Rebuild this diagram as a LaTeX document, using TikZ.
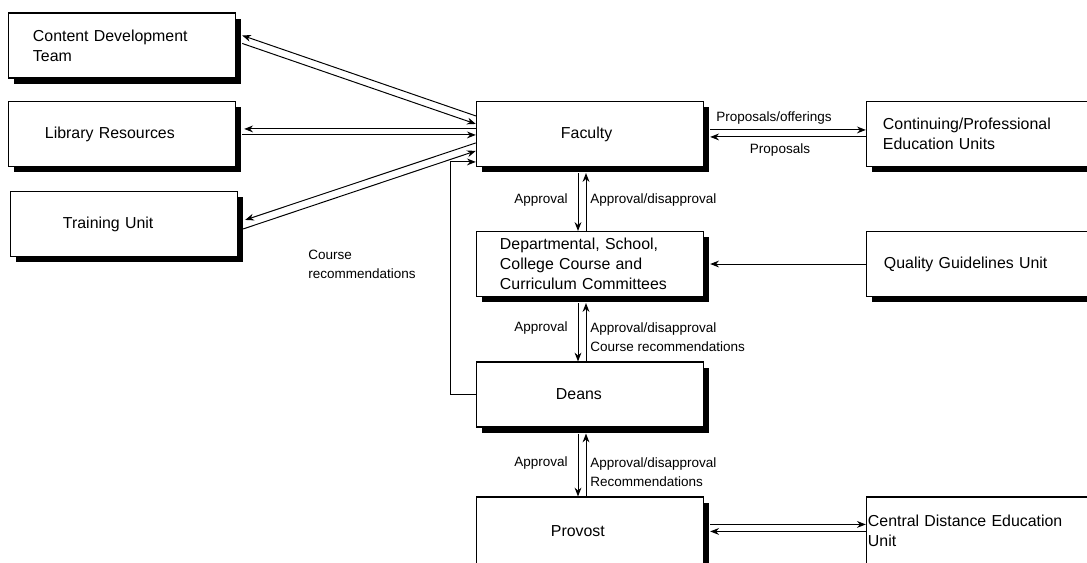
\documentclass[tikz,border=0pt]{standalone}
\usepackage{fontspec}
\setmainfont{Liberation Sans}
\usetikzlibrary{shadows,calc,arrows.meta}
\tikzstyle{unit} = [rectangle, draw=black, line width=0.8pt, fill=white, inner sep=0pt, minimum width=5.68cm, minimum height=1.625cm, general shadow={fill=black, shadow xshift=0.14cm, shadow yshift=-0.14cm}, font=\fontsize{11.3}{14.2}\selectfont, align=left]
\tikzstyle{flow} = [line width=0.7pt, -{Stealth[length=0.22cm,width=0.17cm]}]
\tikzstyle{note} = [inner sep=0pt, align=left, font=\fontsize{9.6}{13.5}\selectfont]

\begin{document}
\begin{tikzpicture}[x=0.025cm, y=-0.025cm]
	\useasboundingbox (0,0) rectangle (1087,562);
	\fill[white] (0,0) rectangle (1087,562);
	\clip (0,0) rectangle (1087,562);
	% units on the left
	\node [unit, text width=4.45cm] (cdt) at (122,45.5) {Content Development\\Team};
	\node [unit, text width=3.85cm] (lib) at (122,134) {Library Resources};
	\node [unit, text width=3.05cm] (train) at (124,224) {Training Unit};
	% main column
	\node [unit, text width=1.45cm] (fac) at (590,134) {Faculty};
	\node [unit, text width=4.5cm] (dept) at (590,264) {Departmental, School,\\College Course and\\Curriculum Committees};
	\node [unit, text width=1.7cm] (deans) at (590,394.5) {Deans};
	\node [unit, text width=1.95cm, minimum height=1.7cm] (prov) at (590,531) {Provost};
	% units on the right
	\node [unit, text width=4.85cm] (cont) at (980,134) {Continuing/Professional\\Education Units};
	\node [unit, text width=4.8cm] (qual) at (980,264) {Quality Guidelines Unit};
	\node [unit, text width=5.6cm, minimum height=1.7cm] (cdeu) at (980,531) {Central Distance Education\\Unit};

	\draw[flow] ($(fac.north west)+(0,15)$) -- ($(cdt.north east)+(6,23)$);
	\draw[flow] ($(cdt.north east)+(6,31)$) -- ($(fac.north west)+(0,23)$);
	\draw[flow] ($(fac.north west)+(0,28)$) -- ($(lib.north east)+(8,28)$);
	\draw[flow] ($(lib.north east)+(6,34)$) -- ($(fac.north west)+(0,34)$);
	\draw[flow] ($(fac.north west)+(0,42)$) -- ($(train.north east)+(7,29)$);
	\draw[flow] ($(train.north east)+(5,38)$) -- ($(fac.north west)+(0,50)$);
	\draw[flow] (deans.west) -- ++(-25,0) |- ($(fac.north west)+(0,61)$);

	\draw[flow] ($(fac.north east)+(6,29)$) -- ($(cont.north west)+(0,29)$);
	\draw[flow] ($(cont.north west)+(0,36)$) -- ($(fac.north east)+(6,36)$);
	\draw[flow] (qual.west) -- ($(dept.east)+(6,0)$);
	\draw[flow] ($(prov.north east)+(6,28)$) -- ($(cdeu.north west)+(0,28)$);
	\draw[flow] ($(cdeu.north west)+(0,35)$) -- ($(prov.north east)+(6,35)$);

	\foreach \up/\down in {fac/dept, dept/deans, deans/prov} {
		\draw[flow] ($(\up.south)+(-12,6)$) -- ($(\down.north)+(-12,0)$);
		\draw[flow] ($(\down.north)+(-4,0)$) -- ($(\up.south)+(-4,6)$);
	}

	% labels
	\node [note] (offer) at (774,118) {Proposals/offerings};
	\node [note] (prop) at (780,150) {Proposals};
	\node [note, anchor=west] (crec) at (308,264) {Course\\recommendations};
	\node [note, anchor=east] (ok1) at (568,200) {Approval};
	\node [note, anchor=west] (dis1) at (590,200) {Approval/disapproval};
	\node [note, anchor=east] (ok2) at (568,328) {Approval};
	\node [note, anchor=west] (dis2) at (590,337.5) {Approval/disapproval\\Course recommendations};
	\node [note, anchor=east] (ok3) at (568,463) {Approval};
	\node [note, anchor=west] (dis3) at (590,472.5) {Approval/disapproval\\Recommendations};
\end{tikzpicture}
\end{document}
